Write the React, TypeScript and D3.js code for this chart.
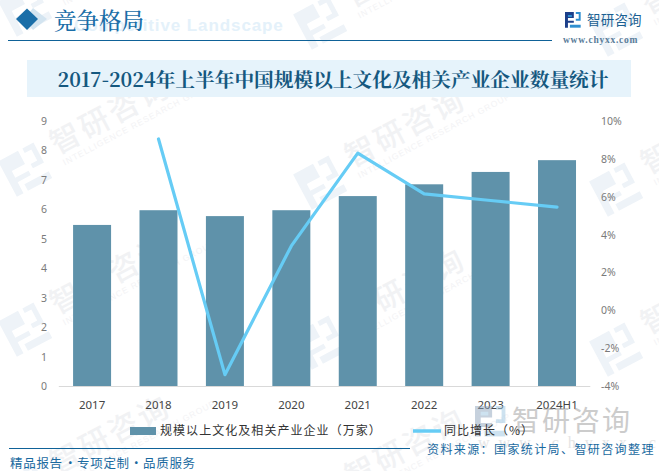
import React from "react";
import * as d3 from "d3";

const categories = ["2017", "2018", "2019", "2020", "2021", "2022", "2023", "2024H1"];
const companies = [5.47, 5.97, 5.77, 5.97, 6.45, 6.85, 7.27, 7.67];
const growth: (number | null)[] = [null, 9.05, -3.4, 3.4, 8.3, 6.15, 5.8, 5.45];
const leftTicks = [0, 1, 2, 3, 4, 5, 6, 7, 8, 9];
const rightTicks = [-4, -2, 0, 2, 4, 6, 8, 10];
const marks: [number, number][] = [
  [57, -5], [352, 8], [648, 15],
  [57, 155], [352, 168], [648, 175],
  [57, 315], [352, 328], [648, 335],
  [57, 475], [352, 488],
];

const cjk = "'Noto Sans CJK SC', sans-serif";
const serif = "'Noto Serif CJK SC', 'Liberation Serif', 'DejaVu Serif', 'Noto Sans CJK SC', serif";

function Logo({ x, y, s, c1, c2 }: { x: number; y: number; s: number; c1: string; c2: string }) {
  return (
    <g transform={`translate(${x},${y}) scale(${s})`}>
      <path d="M0 0H9V6H3V9H9V11H3V16H0Z" fill={c1} />
      <path d="M7 3H3V5H7ZM11 0H16V9H11V7H14V2H11Z" fill={c2} />
      <path d="M5 13H16V16H5Z" fill={c2} />
    </g>
  );
}

export default function App() {
  const x = d3.scaleBand<string>().domain(categories).range([58.8, 590.3]).paddingInner(0.428).paddingOuter(0.215);
  const y = d3.scaleLinear().domain([0, 9]).range([386, 121]);
  const yr = d3.scaleLinear().domain([-4, 10]).range([386, 121]);
  const cx = (c: string) => (x(c) as number) + x.bandwidth() / 2;
  const line = d3
    .line<number | null>()
    .defined((d) => d !== null)
    .x((_, i) => cx(categories[i]))
    .y((d) => yr(d as number));
  return (
    <svg width={659} height={471} style={{ position: "absolute", left: 0, top: 0, background: "#fff" }}>
      {marks.map(([mx, my], i) => (
        <g key={i} transform={`translate(${mx},${my}) rotate(-28)`}>
          <Logo x={-55} y={-22} s={2.5} c1="#eef3f8" c2="#eef3f8" />
          <text x={0} y={0} fontFamily={cjk} fontSize={30} fontWeight={500} fill="#f1f2f4" letterSpacing={3}>智研咨询</text>
          <text x={2} y={13} fontFamily="'Liberation Sans', sans-serif" fontSize={8.5} fill="#f3f3f5" letterSpacing={1}>INTELLIGENCE RESEARCH GROUP</text>
        </g>
      ))}

      {/* header */}
      <path d="M33 8L47 19L33 30L24 19Z" fill="#d3e4f0" />
      <path d="M27 8.5L38 19L27 30L16 19Z" fill="#1a6ea8" />
      <text x={74} y={31} fontFamily="'Liberation Sans', sans-serif" fontSize={17} fontWeight={700} fill="#e4f1fa" letterSpacing={0.9}>Competitive Landscape</text>
      <text x={54} y={29} fontFamily={serif} fontSize={22.5} fontWeight={500} fill="#1a6ea8">竞争格局</text>
      <line x1={8} x2={552} y1={40.5} y2={40.5} stroke="#0f6298" strokeWidth={1.2} />
      <Logo x={565} y={12} s={0.98} c1="#1c3f8a" c2="#2f8fd0" />
      <text x={587} y={25} fontFamily={cjk} fontSize={13.5} fill="#1a5f92" letterSpacing={0.2}>智研咨询</text>
      <text x={563} y={43} fontFamily="'Liberation Serif', serif" fontSize={9.5} fontWeight={700} fill="#5a7d9a" letterSpacing={0.75}>www.chyxx.com</text>

      {/* title */}
      <rect x={27} y={60} width={604} height={37} fill="#e6f3fb" />
      <text x={333} y={87} textAnchor="middle" fontFamily={serif} fontSize={19.7} fontWeight={700} fill="#15587f">2017-2024年上半年中国规模以上文化及相关产业企业数量统计</text>

      {/* axis */}
      <line x1={58.8} x2={590.3} y1={386.5} y2={386.5} stroke="#d9d9d9" strokeWidth={1} />
      {leftTicks.map((t) => (
        <text key={t} x={44} y={y(t) + 4} textAnchor="middle" fontFamily="'Noto Sans', sans-serif" fontSize={10.5} fill="#7a7a7a">{t}</text>
      ))}
      {rightTicks.map((t) => (
        <text key={t} x={601} y={yr(t) + 4} textAnchor="start" fontFamily="'Noto Sans', sans-serif" fontSize={10.5} fill="#7a7a7a">{`${t}%`}</text>
      ))}
      {categories.map((c) => (
        <text key={c} x={cx(c)} y={409} textAnchor="middle" fontFamily="'Noto Sans', sans-serif" fontSize={11.5} fill="#444">{c}</text>
      ))}

      {/* marks */}
      {companies.map((v, i) => (
        <rect key={categories[i]} x={x(categories[i])} y={y(v)} width={x.bandwidth()} height={386 - y(v)} fill="#5f92aa" />
      ))}
      <path d={line(growth) ?? ""} fill="none" stroke="#66ccf5" strokeWidth={3.2} strokeLinecap="round" strokeLinejoin="round" />

      {/* bottom watermark logo */}
      <g opacity={0.5}>
        <Logo x={475} y={406} s={1.9} c1="#8ea4bd" c2="#9cc6e2" />
        <text x={512} y={431} fontFamily={cjk} fontSize={28} fill="#9a9a9a" letterSpacing={2}>智研咨询</text>
        <text x={478} y={448} fontFamily="'Liberation Serif', serif" fontSize={16} fill="#ccc" letterSpacing={9}>www.chyxx.com</text>
      </g>

      {/* legend */}
      <rect x={130} y={427} width={26} height={8} fill="#5f92aa" />
      <text x={160} y={435} fontFamily={cjk} fontSize={12} fill="#333" letterSpacing={1.05}>规模以上文化及相关产业企业（万家）</text>
      <line x1={413} x2={441} y1={431} y2={431} stroke="#66ccf5" strokeWidth={3.5} />
      <text x={444} y={435} fontFamily={cjk} fontSize={12} fill="#333" letterSpacing={1}>同比增长（%）</text>

      {/* footer */}
      <line x1={9} x2={410} y1={448.5} y2={448.5} stroke="#0f6298" strokeWidth={1.2} />
      <text y={468} fontFamily={cjk} fontSize={12.5} fill="#1a6aa0" letterSpacing={0.7}>
        <tspan x={10}>精品报告</tspan>
        <tspan x={64}>·</tspan>
        <tspan x={77}>专项定制</tspan>
        <tspan x={130}>·</tspan>
        <tspan x={143}>品质服务</tspan>
      </text>
      <text x={427} y={454} fontFamily={cjk} fontSize={12} fill="#1a6aa0" letterSpacing={1.4}>资料来源：国家统计局、智研咨询整理</text>
    </svg>
  );
}
